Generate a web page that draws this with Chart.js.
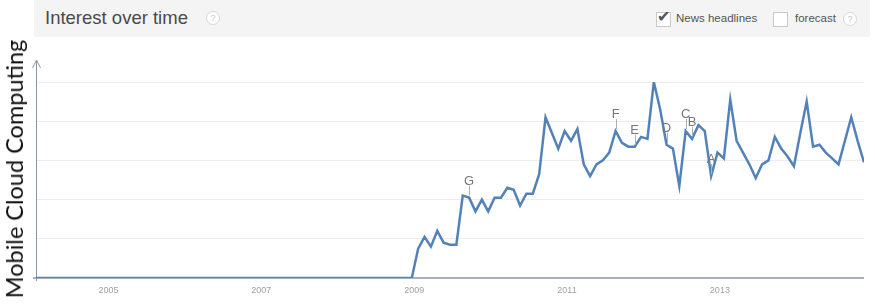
<!DOCTYPE html>
<html>
<head>
<meta charset="utf-8">
<script src="https://cdn.jsdelivr.net/npm/chart.js@4"></script>
<style>
  html, body { margin: 0; padding: 0; background: #fff; }
  #wrap { position: relative; width: 875px; height: 308px; overflow: hidden; font-family: "Liberation Sans", Arial, sans-serif; }
  #band { position: absolute; left: 34px; top: 0; width: 836px; height: 37px; background: #f4f4f4; }
  #title { position: absolute; left: 45px; top: 7px; font-size: 18.5px; color: #4a4a4a; }
  .help { position: absolute; width: 12px; height: 12px; border: 1px solid #d6d6d6; border-radius: 50%;
          font-size: 9px; line-height: 12px; text-align: center; color: #c8c8c8; background: #fff; }
  .box { position: absolute; top: 12px; width: 13px; height: 13px; border: 1px solid #c9c9c9; background: #fff; }
  .opt { position: absolute; top: 12px; font-size: 11.5px; color: #555; }
  #tick { position: absolute; left: 657px; top: 7px; font-family: "DejaVu Sans"; font-size: 16px; color: #555; }
  #ytitle { position: absolute; left: 14px; top: 169px; transform: translate(-50%, -50%) rotate(-90deg);
            white-space: nowrap; font-family: Lato, "Open Sans", sans-serif; font-size: 23.5px; color: #111; }
  #chartBox { position: absolute; left: 0; top: 0; width: 875px; height: 308px; }
</style>
</head>
<body>
<div id="wrap">
  <div id="band"></div>
  <div id="title">Interest over time</div>
  <div class="help" style="left:206px; top:11px;">?</div>
  <div class="box" style="left:656px;"></div>
  <div id="tick">✔</div>
  <div class="opt" style="left:676px;">News headlines</div>
  <div class="box" style="left:773px;"></div>
  <div class="opt" style="left:795px;">forecast</div>
  <div class="help" style="left:843px; top:12px;">?</div>
  <div id="chartBox"><canvas id="trend"></canvas></div>
  <div id="ytitle">Mobile Cloud Computing</div>
</div>
<script>
// monthly search interest, Jan 2004 .. Nov 2014
const startYear = 2004;
const interest = [
  0, 0, 0, 0, 0, 0, 0, 0, 0, 0, 0, 0,        // 2004
  0, 0, 0, 0, 0, 0, 0, 0, 0, 0, 0, 0,        // 2005
  0, 0, 0, 0, 0, 0, 0, 0, 0, 0, 0, 0,        // 2006
  0, 0, 0, 0, 0, 0, 0, 0, 0, 0, 0, 0,        // 2007
  0, 0, 0, 0, 0, 0, 0, 0, 0, 0, 0, 0,        // 2008
  15, 21, 16, 24, 18, 17, 17, 42, 41, 34, 40, 34,   // 2009
  41, 41, 46, 45, 37, 43, 43, 53, 82, 74, 66, 75,   // 2010
  70, 76, 58, 52, 58, 60, 64, 75, 69, 67, 67, 72,   // 2011
  71, 100, 86, 68, 66, 47, 75, 71, 78, 75, 52, 64,  // 2012
  61, 91, 70, 64, 58, 51, 58, 60, 72, 66, 62, 57,   // 2013
  74, 90, 67, 68, 64, 61, 58, 70, 82, 70, 59        // 2014
];
const yearTicks = [2005, 2007, 2009, 2011, 2013];
const gridValues = [20, 40, 60, 80, 100];

// news headline markers
const eventLetters = ["A", "B", "C", "D", "E", "F", "G"];
const eventMonths = ["2012-11", "2012-08", "2012-07", "2012-04", "2011-11", "2011-08", "2009-09"];

const points = interest.map((v, i) => ({ x: startYear + i / 12, y: v }));

function monthIndex(s) {
  const [yy, mm] = s.split("-").map(Number);
  return (yy - startYear) * 12 + (mm - 1);
}

const axisDecor = {
  id: "axisDecor",
  beforeDatasetsDraw(chart) {
    const { ctx, chartArea: a, scales } = chart;
    const y0 = scales.y.getPixelForValue(0);
    ctx.save();
    ctx.strokeStyle = "#8797a8";
    ctx.lineWidth = 1.5;
    ctx.beginPath();
    ctx.moveTo(a.left - 3, y0);
    ctx.lineTo(a.right, y0);
    ctx.stroke();
    ctx.lineWidth = 1;
    ctx.beginPath();
    ctx.moveTo(a.left + 0.5, y0 + 3);
    ctx.lineTo(a.left + 0.5, a.top - 21);
    ctx.moveTo(a.left - 3.5, a.top - 14);
    ctx.lineTo(a.left + 0.5, a.top - 22);
    ctx.lineTo(a.left + 4.5, a.top - 14);
    ctx.stroke();
    ctx.restore();
  }
};

const newsMarks = {
  id: "newsMarks",
  afterDatasetsDraw(chart) {
    const { ctx, scales } = chart;
    ctx.save();
    ctx.font = "13px 'Liberation Sans', Arial, sans-serif";
    ctx.textAlign = "center";
    ctx.textBaseline = "alphabetic";
    eventLetters.forEach((letter, k) => {
      const i = monthIndex(eventMonths[k]);
      const px = scales.x.getPixelForValue(points[i].x);
      const py = scales.y.getPixelForValue(points[i].y);
      ctx.strokeStyle = "#b0b0b0";
      ctx.lineWidth = 1;
      ctx.beginPath();
      ctx.moveTo(Math.round(px) + 0.5, py - 2);
      ctx.lineTo(Math.round(px) + 0.5, py - 12);
      ctx.stroke();
      ctx.fillStyle = "#777";
      ctx.fillText(letter, px, py - 13);
    });
    ctx.restore();
  }
};

new Chart(document.getElementById("trend"), {
  type: "line",
  data: {
    datasets: [{
      data: points,
      borderColor: "#5282b8",
      borderWidth: 2.5,
      pointRadius: 0,
      tension: 0,
      fill: false
    }]
  },
  options: {
    responsive: true,
    maintainAspectRatio: false,
    animation: false,
    layout: { padding: { left: 36, right: 11, top: 82, bottom: 0 } },
    plugins: { legend: { display: false }, tooltip: { enabled: false } },
    scales: {
      x: {
        type: "linear",
        min: startYear,
        max: startYear + (interest.length - 1) / 12,
        afterBuildTicks: s => { s.ticks = yearTicks.map(v => ({ value: v })); },
        afterFit: s => { s.height = 30; },
        grid: { display: false, drawTicks: false },
        border: { display: false },
        ticks: {
          font: { size: 9, family: "'Liberation Sans', Arial, sans-serif" },
          color: "#a0a0a0",
          padding: 7,
          labelOffset: -4,
          maxRotation: 0,
          callback: v => String(v)
        }
      },
      y: {
        min: 0,
        max: 100,
        afterBuildTicks: s => { s.ticks = gridValues.map(v => ({ value: v })); },
        afterFit: s => { s.width = 0; },
        grid: { color: "#ececec", drawTicks: false },
        border: { display: false },
        ticks: { display: false }
      }
    }
  },
  plugins: [axisDecor, newsMarks]
});
</script>
</body>
</html>
